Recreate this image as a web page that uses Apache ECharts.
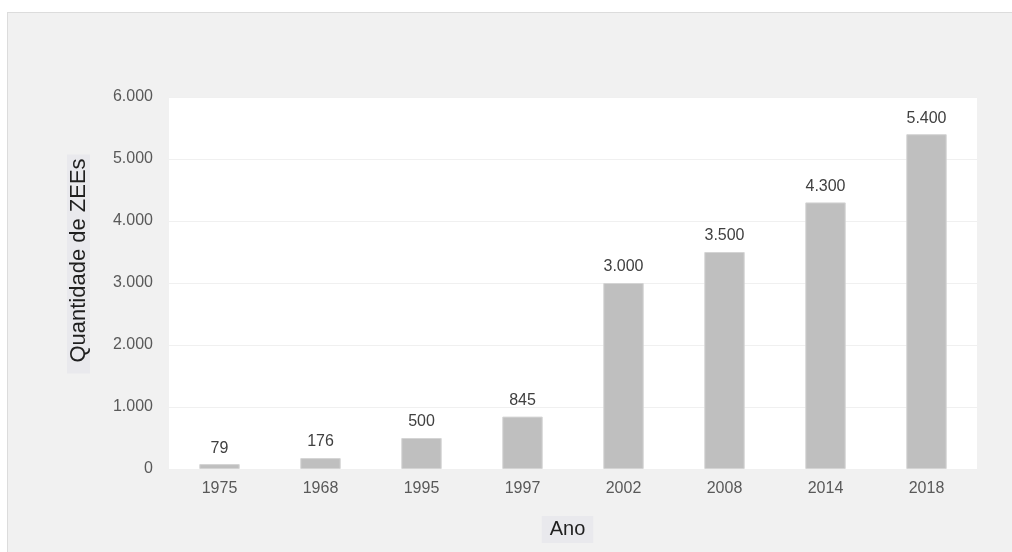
<!DOCTYPE html>
<html>
<head>
<meta charset="utf-8">
<script src="https://cdn.jsdelivr.net/npm/echarts@6/dist/echarts.min.js"></script>
<style>
  html, body { margin: 0; padding: 0; background: #ffffff; }
  #frame { position: absolute; left: 7px; top: 12px; width: 1004px; height: 539px;
           background: #f1f1f1; border-left: 1px solid #dcdcdc; border-top: 1px solid #dcdcdc; }
  #chart { width: 1004px; height: 539px; }
</style>
</head>
<body>
<div id="frame"><div id="chart"></div></div>
<script>
const categories = ['1975', '1968', '1995', '1997', '2002', '2008', '2014', '2018'];
const values = [79, 176, 500, 845, 3000, 3500, 4300, 5400];
const yTitle = 'Quantidade de ZEEs';
const xTitle = 'Ano';

function fmt(v) {
  return String(v).replace(/\B(?=(\d{3})+(?!\d))/g, '.');
}

const font = '"Liberation Sans", Arial, sans-serif';

const chart = echarts.init(document.getElementById('chart'), null, { renderer: 'canvas' });
chart.setOption({
  backgroundColor: 'transparent',
  animation: false,
  textStyle: { fontFamily: font },
  grid: { left: 161, top: 84, width: 808, height: 372, show: true, backgroundColor: '#ffffff', borderWidth: 0 },
  xAxis: {
    type: 'category',
    data: categories,
    axisLine: { show: false },
    axisTick: { show: false },
    axisLabel: { color: '#595959', fontSize: 16, margin: 12 }
  },
  yAxis: {
    type: 'value',
    min: 0, max: 6000, interval: 1000,
    axisLine: { show: false },
    axisTick: { show: false },
    splitLine: { lineStyle: { color: '#f0f0f0', width: 1 } },
    axisLabel: { color: '#595959', fontSize: 16, margin: 16, formatter: fmt }
  },
  graphic: [
    {
      type: 'text', x: 70.5, y: 251, rotation: Math.PI / 2, silent: true,
      style: {
        text: yTitle, font: '22px "Liberation Sans", Arial, sans-serif', fill: '#1f1f1f',
        align: 'center', verticalAlign: 'middle', lineHeight: 21,
        backgroundColor: '#e9e9ed', padding: [1, 4, 1, 11]
      }
    },
    {
      type: 'text', x: 559.5, y: 516.5, silent: true,
      style: {
        text: xTitle, font: '20px "Liberation Sans", Arial, sans-serif', fill: '#1f1f1f',
        align: 'center', verticalAlign: 'middle', lineHeight: 21,
        backgroundColor: '#e9e9ed', padding: [3, 8, 3, 8]
      }
    }
  ],
  series: [{
    type: 'bar',
    data: values,
    barWidth: '40%',
    itemStyle: { color: '#bfbfbf', borderColor: '#d4d4d4', borderWidth: 1 },
    label: { show: true, position: 'top', distance: 8, color: '#404040', fontSize: 16, formatter: p => fmt(p.value) }
  }]
});
</script>
</body>
</html>
